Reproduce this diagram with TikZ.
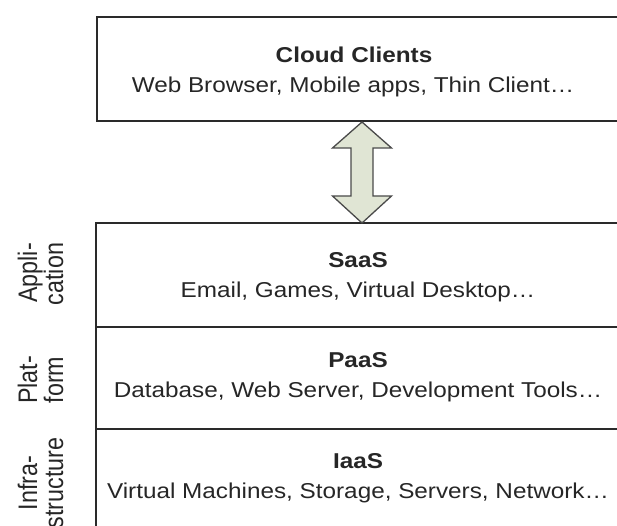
\documentclass[tikz,border=0pt]{standalone}
\usepackage{fontspec}
\setmainfont{Liberation Sans}
\usetikzlibrary{calc}

\definecolor{edge}{HTML}{2A2A2A}
\definecolor{ink}{HTML}{262626}
\definecolor{arrowfill}{HTML}{E0E5D4}
\definecolor{arrowedge}{HTML}{4A4A4A}

% side labels: glyphs slightly taller than wide before they are turned upright
\newcommand{\tallglyphs}[1]{\scalebox{1}[1.15]{#1}}

\tikzset{
  layer/.style={draw=edge, line width=2.4pt, rectangle, inner sep=0pt, outer sep=0pt,
                anchor=north west, minimum width=560pt},
  title/.style={anchor=base, text=ink, inner sep=0pt, xscale=1.13,
                font=\fontsize{21.5}{26}\selectfont\bfseries},
  detail/.style={anchor=base, text=ink, inner sep=0pt, xscale=1.13,
                 font=\fontsize{21.5}{26}\selectfont},
  sidelabel/.style={anchor=base, text=ink, inner sep=0pt, rotate=90,
                    font=\fontsize{23.3}{26}\selectfont},
  blockarrow/.style={draw=arrowedge, fill=arrowfill, line width=1.3pt, line join=miter}
}

\begin{document}
\begin{tikzpicture}[x=1pt, y=-1pt]
  \useasboundingbox (0,0) rectangle (617,526);
  \clip (0,0) rectangle (617,526);

  % client tier
  \node[layer, minimum height=104pt] (clients) at (97,17) {};
  \node[title]  (clientsT) at (354,63) {Cloud Clients};
  \node[detail] (clientsD) at (353,93) {Web Browser, Mobile apps, Thin Client…};

  % service stack
  \node[layer, minimum height=104pt] (saas) at (96,223) {};
  \node[layer, minimum height=102pt] (paas) at (96,327) {};
  \node[layer, minimum height=110pt] (iaas) at (96,429) {};

  \node[title]  (saasT) at (358,267) {SaaS};
  \node[detail] (saasD) at (358,297) {Email, Games, Virtual Desktop…};
  \node[title]  (paasT) at (358,367) {PaaS};
  \node[detail] (paasD) at (358,397) {Database, Web Server, Development Tools…};
  \node[title]  (iaasT) at (358,468) {IaaS};
  \node[detail] (iaasD) at (358,498) {Virtual Machines, Storage, Servers, Network…};

  % layer names on the left
  \node[sidelabel] (appA) at (37,273) {\tallglyphs{Appli-}};
  \node[sidelabel] (appB) at (63,274) {\tallglyphs{cation}};
  \node[sidelabel] (platA) at (37,380) {\tallglyphs{Plat-}};
  \node[sidelabel] (platB) at (63,380) {\tallglyphs{form}};
  \node[sidelabel] (infA) at (37,483) {\tallglyphs{Infra-}};
  \node[sidelabel] (infB) at (63,483) {\tallglyphs{structure}};

  % two-way block arrow between the client tier and the stack
  \coordinate (up)   at ($(clients.south west)+(265,1)$);
  \coordinate (down) at ($(saas.north west)+(266,0)$);
  \draw[blockarrow]
    (up) -- ($(up)+(29.5,26)$) -- ($(up)+(11,26)$)
    -- ($(down)+(11,-27)$) -- ($(down)+(29.5,-27)$) -- (down)
    -- ($(down)+(-29.5,-27)$) -- ($(down)+(-11,-27)$)
    -- ($(up)+(-11,26)$) -- ($(up)+(-29.5,26)$) -- cycle;
\end{tikzpicture}
\end{document}
